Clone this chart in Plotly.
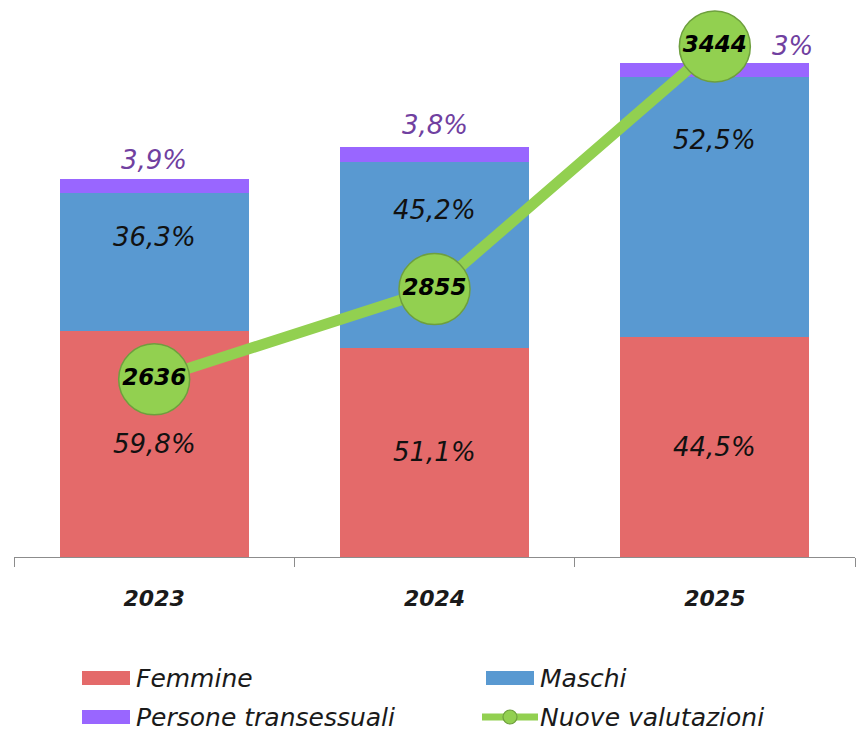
import plotly.graph_objects as go

# ---------------- data ----------------
years = ["2023", "2024", "2025"]
nuove_valutazioni = [2636, 2855, 3444]
femmine_pct = [59.8, 51.1, 44.5]
maschi_pct = [36.3, 45.2, 52.5]
trans_pct = [3.9, 3.8, 3.0]
femmine_labels = ["59,8%", "51,1%", "44,5%"]
maschi_labels = ["36,3%", "45,2%", "52,5%"]
trans_labels = ["3,9%", "3,8%", "3%"]

# segment sizes (counts) derived from totals and shares
femmine = [t * p / 100 for t, p in zip(nuove_valutazioni, femmine_pct)]
maschi = [t * p / 100 for t, p in zip(nuove_valutazioni, maschi_pct)]
trans = [t * p / 100 for t, p in zip(nuove_valutazioni, trans_pct)]

# ---------------- style ----------------
FONT = "DejaVu Sans"
RED = "#E46A6A"
BLUE = "#5999D1"
PURPLE = "#9966FF"
GREEN = "#92D050"
GREEN_EDGE = "#6E9F3E"
PURPLE_TXT = "#7040A0"
AXIS = "#8C8C8C"

W, H = 862, 736
ML, MR, MT, MB = 14, 7, 20, 179
PW, PH = W - ML - MR, H - MT - MB


def px(x):
    return (x - ML) / PW


def py(y):
    return (H - MB - y) / PH


fig = go.Figure()
fig.add_trace(go.Bar(x=years, y=femmine, name="Femmine", marker=dict(color=RED, line=dict(width=0)),
                     showlegend=False, hoverinfo="skip"))
fig.add_trace(go.Bar(x=years, y=maschi, name="Maschi", marker=dict(color=BLUE, line=dict(width=0)),
                     showlegend=False, hoverinfo="skip"))
fig.add_trace(go.Bar(x=years, y=trans, name="Persone transessuali", marker=dict(color=PURPLE, line=dict(width=0)),
                     showlegend=False, hoverinfo="skip"))
fig.add_trace(go.Scatter(
    x=years, y=nuove_valutazioni, yaxis="y2", name="Nuove valutazioni",
    mode="lines+markers+text",
    line=dict(color=GREEN, width=11),
    marker=dict(size=71, color=GREEN, line=dict(color=GREEN_EDGE, width=1.5)),
    text=[str(v) for v in nuove_valutazioni], textposition="middle center",
    textfont=dict(family=FONT, size=23, color="black", weight="bold", style="italic"),
    cliponaxis=False, showlegend=False, hoverinfo="skip"))

annotations = []
# Femmine labels centred in segment
for i, (f, lab) in enumerate(zip(femmine, femmine_labels)):
    annotations.append(dict(x=i, y=f / 2, text=f"<i>{lab}</i>", showarrow=False,
                            font=dict(family=FONT, size=26, color="#111111")))
# Maschi labels placed below segment top
maschi_shift = [-44, -48, -63]
for i, (f, m, lab, s) in enumerate(zip(femmine, maschi, maschi_labels, maschi_shift)):
    annotations.append(dict(x=i, y=f + m, yshift=s, text=f"<i>{lab}</i>", showarrow=False,
                            font=dict(family=FONT, size=26, color="#111111")))
# Trans labels above bars
trans_xshift = [0, 0, 78]
trans_yshift = [19, 22, 17]
for i, (f, m, t, lab, xs, ys) in enumerate(zip(femmine, maschi, trans, trans_labels, trans_xshift, trans_yshift)):
    annotations.append(dict(x=i, y=f + m + t, xshift=xs, yshift=ys, text=f"<i>{lab}</i>", showarrow=False,
                            font=dict(family=FONT, size=26, color=PURPLE_TXT)))

# ---------------- manual legend ----------------
shapes = []
legend_items = [
    ("Femmine", RED, "bar", 82, 678),
    ("Maschi", BLUE, "bar", 486, 678),
    ("Persone transessuali", PURPLE, "bar", 82, 717),
    ("Nuove valutazioni", GREEN, "line", 482, 717),
]
for name, col, kind, x0, yc in legend_items:
    if kind == "bar":
        shapes.append(dict(type="rect", xref="paper", yref="paper",
                           x0=px(x0), x1=px(x0 + 48), y0=py(yc - 7), y1=py(yc + 7),
                           fillcolor=col, line=dict(width=0)))
        tx = x0 + 52
    else:
        shapes.append(dict(type="line", xref="paper", yref="paper",
                           x0=px(x0), x1=px(x0 + 56), y0=py(yc), y1=py(yc),
                           line=dict(color=col, width=7)))
        shapes.append(dict(type="circle", xref="paper", yref="paper",
                           xsizemode="pixel", ysizemode="pixel",
                           xanchor=px(x0 + 28), yanchor=py(yc),
                           x0=-7, x1=7, y0=-7, y1=7,
                           fillcolor=col, line=dict(color=GREEN_EDGE, width=1.2)))
        tx = x0 + 56
    annotations.append(dict(xref="paper", yref="paper", x=px(tx), y=py(yc), xanchor="left", yanchor="middle",
                            text=f"<i>{name}</i>", showarrow=False,
                            font=dict(family=FONT, size=25, color="#1a1a1a")))

fig.update_layout(
    width=W, height=H,
    margin=dict(l=ML, r=MR, t=MT, b=MB),
    paper_bgcolor="white", plot_bgcolor="white",
    barmode="stack", bargap=0.325,
    showlegend=False,
    font=dict(family=FONT),
    xaxis=dict(type="category", range=[-0.5, 2.5], autorange=False,
               showgrid=False, zeroline=False,
               showline=True, linecolor=AXIS, linewidth=1.2,
               ticks="outside", tickson="boundaries", ticklen=9, tickcolor=AXIS, tickwidth=1.2,
               tickfont=dict(family=FONT, size=22, color="#1a1a1a", weight="bold", style="italic"),
               ticklabelstandoff=21),
    yaxis=dict(range=[0, 3740], autorange=False, visible=False, showgrid=False, zeroline=False),
    yaxis2=dict(range=[2205, 3508], autorange=False, overlaying="y", visible=False,
                showgrid=False, zeroline=False),
    annotations=annotations,
    shapes=shapes,
)

fig.write_html("out.html", config={"displayModeBar": False},
               post_script="document.body.style.margin='0';")
